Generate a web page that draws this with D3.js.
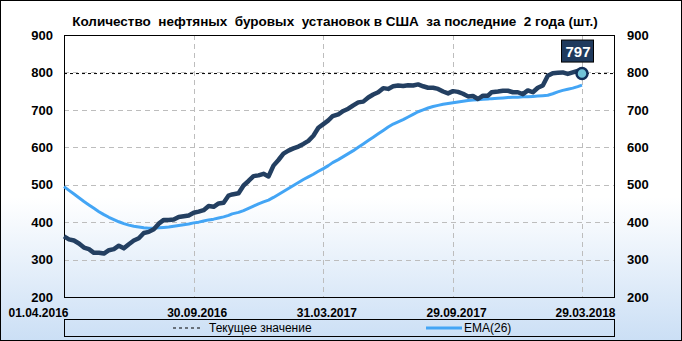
<!DOCTYPE html>
<html>
<head>
<meta charset="utf-8">
<script src="https://cdn.jsdelivr.net/npm/d3@7"></script>
<style>
  body { margin: 0; background: #fff; }
  svg { display: block; font-family: "Liberation Sans", Arial, sans-serif; }
</style>
</head>
<body>
<script>
// weekly oil rig count, 01.04.2016 - 29.03.2018
var dates = [
  "2016-04-01","2016-04-08","2016-04-15","2016-04-22","2016-04-29","2016-05-06","2016-05-13","2016-05-20","2016-05-27","2016-06-03",
  "2016-06-10","2016-06-17","2016-06-24","2016-07-01","2016-07-08","2016-07-15","2016-07-22","2016-07-29","2016-08-05","2016-08-12",
  "2016-08-19","2016-08-26","2016-09-02","2016-09-09","2016-09-16","2016-09-23","2016-09-30","2016-10-07","2016-10-14","2016-10-21",
  "2016-10-28","2016-11-04","2016-11-11","2016-11-18","2016-11-23","2016-12-02","2016-12-09","2016-12-16","2016-12-23","2016-12-30",
  "2017-01-06","2017-01-13","2017-01-20","2017-01-27","2017-02-03","2017-02-10","2017-02-17","2017-02-24","2017-03-03","2017-03-10",
  "2017-03-17","2017-03-24","2017-03-31","2017-04-07","2017-04-13","2017-04-21","2017-04-28","2017-05-05","2017-05-12","2017-05-19",
  "2017-05-26","2017-06-02","2017-06-09","2017-06-16","2017-06-23","2017-06-30","2017-07-07","2017-07-14","2017-07-21","2017-07-28",
  "2017-08-04","2017-08-11","2017-08-18","2017-08-25","2017-09-01","2017-09-08","2017-09-15","2017-09-22","2017-09-29","2017-10-06",
  "2017-10-13","2017-10-20","2017-10-27","2017-11-03","2017-11-10","2017-11-17","2017-11-22","2017-12-01","2017-12-08","2017-12-15",
  "2017-12-22","2017-12-29","2018-01-05","2018-01-12","2018-01-19","2018-01-26","2018-02-02","2018-02-09","2018-02-16","2018-02-23",
  "2018-03-02","2018-03-09","2018-03-16","2018-03-23","2018-03-29"
];

var rigs = [
  362,354,351,343,332,328,318,318,316,325,
  328,337,330,341,351,357,371,374,381,396,
  406,406,407,414,416,418,425,428,432,443,
  441,450,452,471,474,477,498,510,523,525,
  529,522,551,566,583,591,597,602,609,617,
  631,652,662,672,683,688,697,703,712,720,
  722,733,741,747,758,756,763,765,764,766,
  765,768,763,759,759,756,749,744,750,748,
  743,736,737,729,738,738,747,749,751,751,
  747,747,742,752,747,759,765,791,798,799,
  800,796,800,804,797
];

var ema = [
  495,485,475,465,455,446,437,428,420,413,
  407,401,396,392,389,387,385,384,384,385,
  386,387,389,391,393,395,398,400,403,406,
  408,411,414,418,422,426,431,437,443,449,
  454,459,466,474,482,490,498,506,514,521,
  528,536,543,551,559,567,575,583,591,600,
  609,618,627,636,645,654,662,668,674,681,
  688,695,700,705,709,712,715,717,719,721,
  723,725,726,727,728,729,730,731,732,733,
  734,734,735,735,736,737,738,739,743,748,
  752,755,758,762,766
];

var tickDates = ["2016-04-01","2016-09-30","2017-03-31","2017-09-29","2018-03-29"];
var tickLabels = ["01.04.2016","30.09.2016","31.03.2017","29.09.2017","29.03.2018"];
var yTicks = [200,300,400,500,600,700,800,900];
var currentValue = 797;

var svgWidth = 682, svgHeight = 341;
var plot = { left: 64, right: 614, top: 35, bottom: 297 };

var parse = d3.timeParse("%Y-%m-%d");
var points = dates.map(function(d, i) {
  return { date: parse(d), rigs: rigs[i], ema: ema[i] };
});

var svg = d3.select("body").append("svg")
  .attr("width", svgWidth)
  .attr("height", svgHeight);

// background gradient
var grad = svg.append("defs").append("linearGradient")
  .attr("id", "bg").attr("x1", 0).attr("y1", 0).attr("x2", 0).attr("y2", 1);
grad.append("stop").attr("offset", "0%").attr("stop-color", "#ffffff");
grad.append("stop").attr("offset", "58%").attr("stop-color", "#ffffff");
grad.append("stop").attr("offset", "100%").attr("stop-color", "#cbdff5");

svg.append("rect")
  .attr("x", 0.5).attr("y", 0.5)
  .attr("width", svgWidth - 1).attr("height", svgHeight - 1)
  .attr("fill", "url(#bg)")
  .attr("stroke", "#000");

var x = d3.scaleTime()
  .domain([parse(tickDates[0]), parse(tickDates[4])])
  .range([plot.left, 582]);

var y = d3.scaleLinear()
  .domain([200, 900])
  .range([plot.bottom, plot.top]);

// gridlines
svg.append("g").selectAll("line")
  .data(yTicks.filter(function(v) { return v > 200 && v < 900; }))
  .enter().append("line")
  .attr("x1", plot.left).attr("x2", plot.right)
  .attr("y1", function(d) { return Math.round(y(d)) + 0.5; })
  .attr("y2", function(d) { return Math.round(y(d)) + 0.5; })
  .attr("stroke", "#bdbdbd")
  .attr("stroke-dasharray", "5,4");

svg.append("g").selectAll("line")
  .data(tickDates.slice(1))
  .enter().append("line")
  .attr("x1", function(d) { return Math.round(x(parse(d))) + 0.5; })
  .attr("x2", function(d) { return Math.round(x(parse(d))) + 0.5; })
  .attr("y1", plot.top).attr("y2", plot.bottom)
  .attr("stroke", "#bdbdbd")
  .attr("stroke-dasharray", "5,4");

// current value line
svg.append("line")
  .attr("x1", plot.left).attr("x2", plot.right)
  .attr("y1", y(currentValue)).attr("y2", y(currentValue))
  .attr("stroke", "#000")
  .attr("stroke-dasharray", "3,3");

// plot frame
svg.append("rect")
  .attr("x", plot.left + 0.5).attr("y", plot.top + 0.5)
  .attr("width", plot.right - plot.left).attr("height", plot.bottom - plot.top)
  .attr("fill", "none")
  .attr("stroke", "#000");

// lines
var emaLine = d3.line()
  .x(function(d) { return x(d.date); })
  .y(function(d) { return y(d.ema); });

var rigLine = d3.line()
  .x(function(d) { return x(d.date); })
  .y(function(d) { return y(d.rigs); });

svg.append("path")
  .datum(points)
  .attr("d", emaLine)
  .attr("fill", "none")
  .attr("stroke", "#43a5f5")
  .attr("stroke-width", 3)
  .attr("stroke-linejoin", "round");

svg.append("path")
  .datum(points)
  .attr("d", rigLine)
  .attr("fill", "none")
  .attr("stroke", "#233f61")
  .attr("stroke-width", 4.5)
  .attr("stroke-linejoin", "round");

// last point marker + label
var last = points[points.length - 1];
svg.append("circle")
  .attr("cx", x(last.date)).attr("cy", y(last.rigs))
  .attr("r", 5.5)
  .attr("fill", "#72c4d8")
  .attr("stroke", "#12305a")
  .attr("stroke-width", 2.5);

var lx = x(last.date) - 4, ly = y(last.rigs) - 23;
svg.append("rect")
  .attr("x", lx - 16.5).attr("y", ly - 10.5)
  .attr("width", 32).attr("height", 22)
  .attr("fill", "#1f3a5d")
  .attr("stroke", "#000");
svg.append("text")
  .attr("x", lx).attr("y", ly + 6)
  .attr("text-anchor", "middle")
  .attr("fill", "#fff")
  .style("font-size", "15px")
  .style("font-weight", "bold")
  .text(last.rigs);

// axes
var leftAxis = d3.axisLeft(y).tickValues(yTicks).tickSize(0).tickPadding(11);
var rightAxis = d3.axisRight(y).tickValues(yTicks).tickSize(0).tickPadding(13);
var bottomAxis = d3.axisBottom(x)
  .tickValues(tickDates.map(parse))
  .tickFormat(function(d, i) { return tickLabels[i]; })
  .tickSize(0).tickPadding(11);

var axisGroups = [[leftAxis, "translate(" + plot.left + ",0)"],
 [rightAxis, "translate(" + plot.right + ",0)"],
 [bottomAxis, "translate(0," + plot.bottom + ")"]].map(function(a) {
  var g = svg.append("g").attr("transform", a[1]).call(a[0]);
  g.select(".domain").remove();
  g.selectAll("text")
    .attr("fill", "#000")
    .style("font-family", "Liberation Sans, Arial, sans-serif")
    .style("font-weight", "bold")
    .style("font-size", "13px");
  return g;
});
axisGroups[2].selectAll("text")
  .style("font-size", "12px")
  .attr("dx", function(d, i) { return i === 0 ? -26 : 3; });

// title
svg.append("text")
  .attr("x", 335).attr("y", 26)
  .attr("text-anchor", "middle")
  .style("font-size", "13.5px")
  .style("font-weight", "bold")
  .attr("xml:space", "preserve")
  .text("Количество  нефтяных  буровых  установок в США  за последние  2 года (шт.)");

// legend
svg.append("rect")
  .attr("x", plot.left + 0.5).attr("y", 319.5)
  .attr("width", plot.right - plot.left).attr("height", 17)
  .attr("fill", "none")
  .attr("stroke", "#000");

svg.append("line")
  .attr("x1", 173).attr("x2", 200).attr("y1", 328).attr("y2", 328)
  .attr("stroke", "#000").attr("stroke-dasharray", "3,3");
svg.append("text")
  .attr("x", 209).attr("y", 332)
  .style("font-size", "12px")
  .text("Текущее значение");

svg.append("line")
  .attr("x1", 426).attr("x2", 462).attr("y1", 328).attr("y2", 328)
  .attr("stroke", "#43a5f5").attr("stroke-width", 3);
svg.append("text")
  .attr("x", 464).attr("y", 332)
  .style("font-size", "12px")
  .text("EMA(26)");
</script>
</body>
</html>
